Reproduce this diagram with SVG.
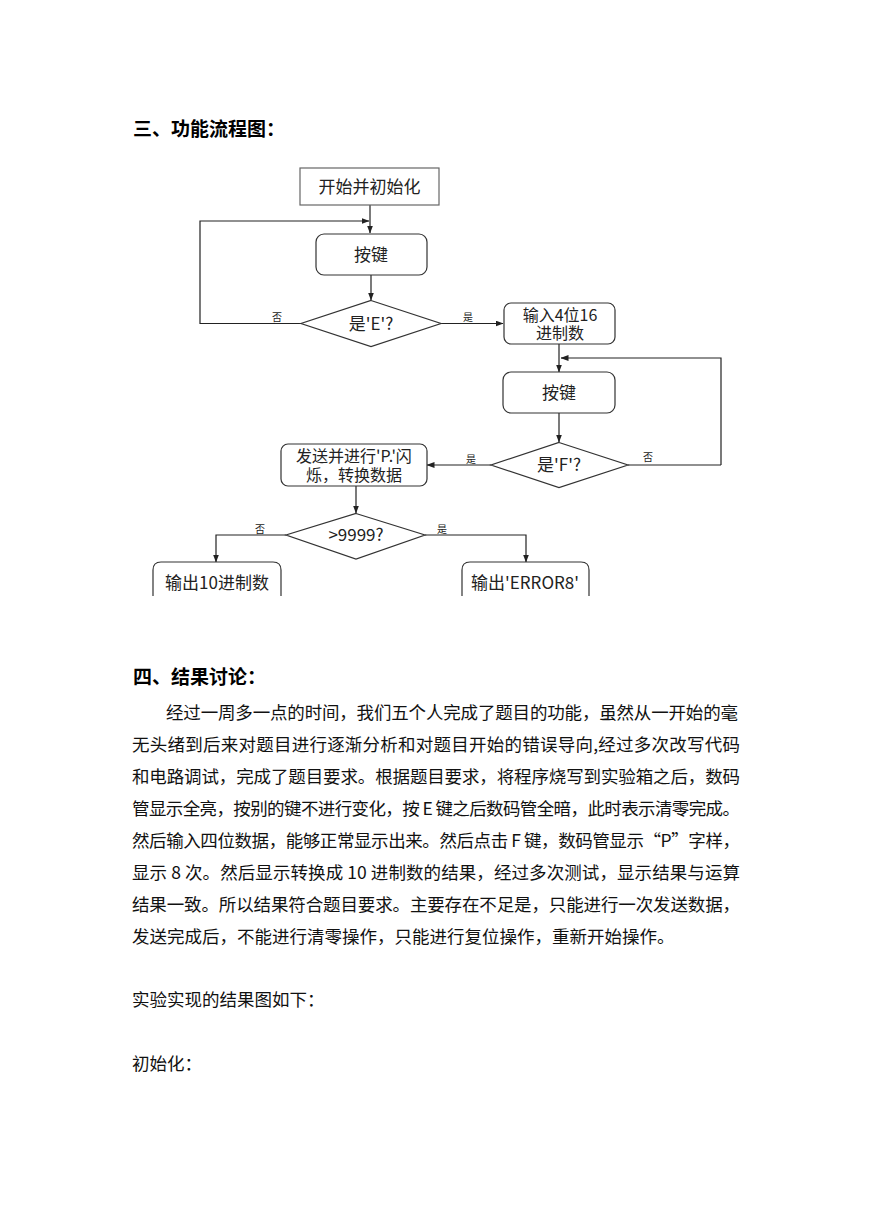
<svg xmlns="http://www.w3.org/2000/svg" width="869" height="1228" viewBox="0 0 869 1228">
<style>
.h{font-family:"Noto Sans CJK SC","Noto Sans",sans-serif;font-size:19px;font-weight:bold;fill:#000}
.b{font-family:"Noto Sans CJK SC","Noto Sans",sans-serif;font-size:17.5px;fill:#111}
.n{font-family:"Noto Sans CJK SC","Noto Sans",sans-serif;font-size:17px;fill:#222;text-anchor:middle}
.n2{font-family:"Noto Sans CJK SC","Noto Sans",sans-serif;font-size:16px;fill:#222;text-anchor:middle}
.s{font-family:"Noto Sans CJK SC","Noto Sans",sans-serif;font-size:10px;fill:#222;text-anchor:middle}
.box{fill:#fff;stroke:#333;stroke-width:1.2}
.c{fill:none;stroke:#222;stroke-width:1.2}
</style>
<defs>
<marker id="ah" markerWidth="8" markerHeight="6" refX="7.5" refY="3" orient="auto" markerUnits="userSpaceOnUse">
<path d="M0,0 L8,3 L0,6 Z" fill="#222"/>
</marker>
</defs>
<rect width="869" height="1228" fill="#fff"/>

<text class="h" x="133" y="136">三、功能流程图：</text>

<g id="connectors">
<path class="c" d="M370,205 V233" marker-end="url(#ah)"/>
<path class="c" d="M302,323.5 H200 V221 H369" marker-end="url(#ah)"/>
<path class="c" d="M371,275 V300" marker-end="url(#ah)"/>
<path class="c" d="M441,323.5 H503" marker-end="url(#ah)"/>
<path class="c" d="M559,344 V372" marker-end="url(#ah)"/>
<path class="c" d="M721,465 V358 H561" marker-end="url(#ah)"/>
<path class="c" d="M628,465 H721"/>
<path class="c" d="M559,413 V442" marker-end="url(#ah)"/>
<path class="c" d="M491,465 H427" marker-end="url(#ah)"/>
<path class="c" d="M356,486 V513" marker-end="url(#ah)"/>
<path class="c" d="M286,535 H216 V562" marker-end="url(#ah)"/>
<path class="c" d="M425,535 H526 V562" marker-end="url(#ah)"/>
<text class="s" x="277" y="321">否</text>
<text class="s" x="468" y="321">是</text>
<text class="s" x="471" y="463">是</text>
<text class="s" x="648" y="461">否</text>
<text class="s" x="260" y="533">否</text>
<text class="s" x="442" y="533">是</text>
</g>

<g id="start">
<rect class="box" x="300" y="168" width="139" height="37" style="stroke:#666"/>
<text class="n" x="369.5" y="193">开始并初始化</text>
</g>
<g id="key1">
<rect class="box" x="316" y="234" width="111" height="41" rx="8"/>
<text class="n" x="371" y="261">按键</text>
</g>
<g id="isE">
<polygon class="box" points="371,300.5 441,323.5 371,346.5 301,323.5"/>
<text class="n" x="371" y="330">是'E'?</text>
</g>
<g id="input">
<rect class="box" x="504" y="303" width="111" height="41" rx="7"/>
<text class="n2" x="560" y="320.5">输入4位16</text>
<text class="n2" x="560" y="339">进制数</text>
</g>
<g id="key2">
<rect class="box" x="503" y="372" width="112" height="41" rx="8"/>
<text class="n" x="559" y="399">按键</text>
</g>
<g id="isF">
<polygon class="box" points="559,442.5 628,465 559,487.5 491,465"/>
<text class="n" x="559" y="471">是'F'?</text>
</g>
<g id="send">
<rect class="box" x="281" y="444" width="146" height="42" rx="7"/>
<text class="n2" x="354" y="461.5">发送并进行'P.'闪</text>
<text class="n2" x="354" y="481">烁，转换数据</text>
</g>
<g id="gt9999">
<polygon class="box" points="356,513.5 425,535 356,559 286,535"/>
<text class="n" x="356" y="541">&gt;9999?</text>
</g>
<g id="out10">
<path class="box" d="M153,596 V570 Q153,562 161,562 H273 Q281,562 281,570 V596"/>
<text class="n" x="217" y="589">输出10进制数</text>
</g>
<g id="outErr">
<path class="box" d="M462,596 V570 Q462,562 470,562 H581 Q589,562 589,570 V596"/>
<text class="n" x="525" y="589">输出'ERROR8'</text>
</g>

<text class="h" x="133" y="684">四、结果讨论：</text>
<text class="b" x="166" y="719" textLength="572" lengthAdjust="spacing">经过一周多一点的时间，我们五个人完成了题目的功能，虽然从一开始的毫</text>
<text class="b" x="132" y="751" textLength="608" lengthAdjust="spacing">无头绪到后来对题目进行逐渐分析和对题目开始的错误导向,经过多次改写代码</text>
<text class="b" x="132" y="783" textLength="608" lengthAdjust="spacing">和电路调试，完成了题目要求。根据题目要求，将程序烧写到实验箱之后，数码</text>
<text class="b" x="132" y="815" textLength="608" lengthAdjust="spacing">管显示全亮，按别的键不进行变化，按 E 键之后数码管全暗，此时表示清零完成。</text>
<text class="b" x="132" y="847" textLength="608" lengthAdjust="spacing">然后输入四位数据，能够正常显示出来。然后点击 F 键，数码管显示“P”字样，</text>
<text class="b" x="132" y="879" textLength="608" lengthAdjust="spacing">显示 8 次。然后显示转换成 10 进制数的结果，经过多次测试，显示结果与运算</text>
<text class="b" x="132" y="911" textLength="608" lengthAdjust="spacing">结果一致。所以结果符合题目要求。主要存在不足是，只能进行一次发送数据，</text>
<text class="b" x="132" y="943">发送完成后，不能进行清零操作，只能进行复位操作，重新开始操作。</text>
<text class="b" x="132" y="1006">实验实现的结果图如下：</text>
<text class="b" x="132" y="1070">初始化：</text>
</svg>
